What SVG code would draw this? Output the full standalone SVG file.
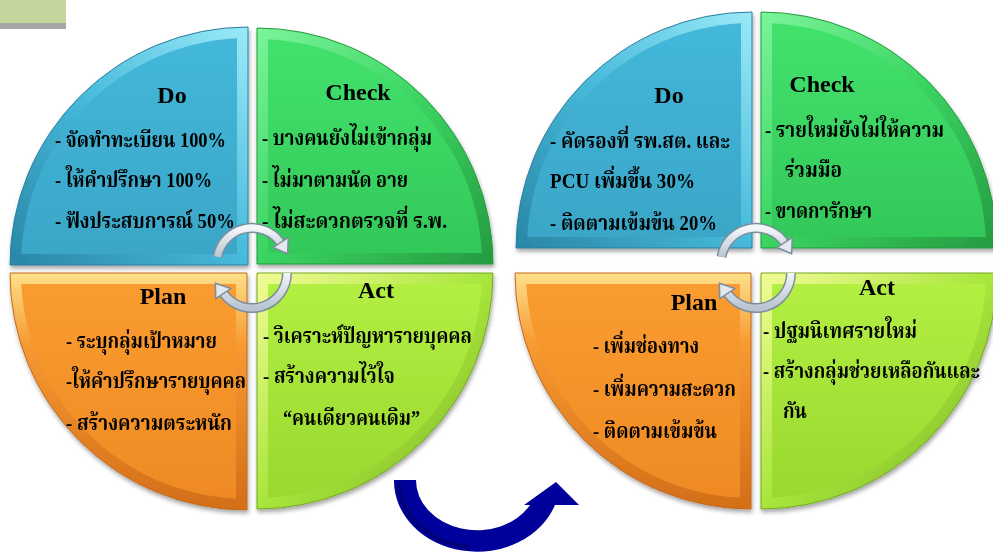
<svg xmlns="http://www.w3.org/2000/svg" width="993" height="553" viewBox="0 0 993 553">
<defs>
<filter id="sh" x="-10%" y="-10%" width="120%" height="120%"><feDropShadow dx="1" dy="3" stdDeviation="2" flood-color="#000" flood-opacity="0.35"/></filter>
<linearGradient id="doRim" x1="1" y1="0" x2="0" y2="1"><stop offset="0" stop-color="#9beaf8"/><stop offset="0.5" stop-color="#46b9da"/><stop offset="1" stop-color="#2a86a6"/></linearGradient>
<linearGradient id="doIn" x1="0" y1="0" x2="0" y2="1"><stop offset="0" stop-color="#44b8da"/><stop offset="1" stop-color="#3aa6c8"/></linearGradient>
<linearGradient id="ckRim" x1="0" y1="0" x2="1" y2="1"><stop offset="0" stop-color="#7cf49a"/><stop offset="0.5" stop-color="#3ad462"/><stop offset="1" stop-color="#259a40"/></linearGradient>
<linearGradient id="ckIn" x1="0" y1="0" x2="0" y2="1"><stop offset="0" stop-color="#42e26c"/><stop offset="1" stop-color="#33c85a"/></linearGradient>
<linearGradient id="plRim" x1="0" y1="0" x2="0" y2="1"><stop offset="0" stop-color="#fde08a"/><stop offset="0.3" stop-color="#f79a32"/><stop offset="1" stop-color="#d36e18"/></linearGradient>
<linearGradient id="plIn" x1="0" y1="0" x2="0" y2="1"><stop offset="0" stop-color="#fa9c30"/><stop offset="1" stop-color="#ef8a24"/></linearGradient>
<linearGradient id="acRim" x1="0" y1="0" x2="1" y2="1"><stop offset="0" stop-color="#f2fb96"/><stop offset="0.5" stop-color="#a8e63c"/><stop offset="1" stop-color="#78ae22"/></linearGradient>
<linearGradient id="acIn" x1="0" y1="0" x2="0" y2="1"><stop offset="0" stop-color="#b2ef42"/><stop offset="1" stop-color="#9bd82f"/></linearGradient>
<linearGradient id="silver" x1="0" y1="0" x2="0" y2="1"><stop offset="0" stop-color="#f4f7fa"/><stop offset="1" stop-color="#b8c5d1"/></linearGradient>
</defs>
<style>
.t{font-family:"Liberation Serif","Noto Serif Thai","Noto Sans Thai","Tlwg Typo",serif;font-weight:bold;fill:#000;}
.h{font-size:24px;text-anchor:middle;}
.b{font-size:21px;}
.do-o{fill:url(#doRim);stroke:#2a7f9e;stroke-width:1;}
.do-i{fill:url(#doIn);}
.ck-o{fill:url(#ckRim);stroke:#249a3e;stroke-width:1;}
.ck-i{fill:url(#ckIn);}
.pl-o{fill:url(#plRim);stroke:#c46a1c;stroke-width:1;}
.pl-i{fill:url(#plIn);}
.ac-o{fill:url(#acRim);stroke:#76a823;stroke-width:1;}
.ac-i{fill:url(#acIn);}
.arc-bg{fill:none;stroke:#7d8d9c;stroke-width:10;}
.arc-fg{fill:none;stroke:url(#silver);stroke-width:7;}
.head{fill:#e2e8ee;stroke:#7d8d9c;stroke-width:1.5;stroke-linejoin:round;}
</style>
<rect x="0" y="0" width="993" height="553" fill="#ffffff"/>
<rect x="0" y="0" width="66" height="23" fill="#c3d69b"/>
<rect x="0" y="23" width="66" height="6" fill="#a6a6a6"/>

<g id="left-do" filter="url(#sh)">
<path class="do-o" d="M248 265 L10 265 A238 238 0 0 1 248 27 Z"/>
<path class="do-i" d="M237 254 L21.3 254 A227 227 0 0 1 237 38.3 Z"/>
<text class="t h" x="172" y="103">Do</text>
<text class="t b" x="55" y="147" textLength="171" lengthAdjust="spacingAndGlyphs">- จัดทำทะเบียน 100%</text>
<text class="t b" x="55" y="187" textLength="157" lengthAdjust="spacingAndGlyphs">- ให้คำปรึกษา 100%</text>
<text class="t b" x="55" y="228" textLength="180" lengthAdjust="spacingAndGlyphs">- ฟังประสบการณ์ 50%</text>
</g>
<g id="left-check" filter="url(#sh)">
<path class="ck-o" d="M257 264 L257 28 A236 236 0 0 1 493 264 Z"/>
<path class="ck-i" d="M268 253 L268 39.3 A225 225 0 0 1 481.7 253 Z"/>
<text class="t h" x="358" y="100">Check</text>
<text class="t b" x="262" y="145" textLength="170" lengthAdjust="spacingAndGlyphs">- บางคนยังไม่เข้ากลุ่ม</text>
<text class="t b" x="262" y="187" textLength="146" lengthAdjust="spacingAndGlyphs">- ไม่มาตามนัด อาย</text>
<text class="t b" x="262" y="228" textLength="185" lengthAdjust="spacingAndGlyphs">- ไม่สะดวกตรวจที่ ร.พ.</text>
</g>
<g id="left-plan" filter="url(#sh)">
<path class="pl-o" d="M247 273 L247 510 A237 237 0 0 1 10 273 Z"/>
<path class="pl-i" d="M236 284 L236 498.7 A226 226 0 0 1 21.3 284 Z"/>
<text class="t h" x="163" y="304">Plan</text>
<text class="t b" x="66" y="348" textLength="151" lengthAdjust="spacingAndGlyphs">- ระบุกลุ่มเป้าหมาย</text>
<text class="t b" x="66" y="388" textLength="180" lengthAdjust="spacingAndGlyphs">-ให้คำปรึกษารายบุคคล</text>
<text class="t b" x="66" y="430" textLength="166" lengthAdjust="spacingAndGlyphs">- สร้างความตระหนัก</text>
</g>
<g id="left-act" filter="url(#sh)">
<path class="ac-o" d="M257 273 L493 273 A236 236 0 0 1 257 509 Z"/>
<path class="ac-i" d="M268 284 L481.7 284 A225 225 0 0 1 268 497.7 Z"/>
<text class="t h" x="376" y="298">Act</text>
<text class="t b" x="263" y="343" textLength="209" lengthAdjust="spacingAndGlyphs">- วิเคราะห์ปัญหารายบุคคล</text>
<text class="t b" x="263" y="383" textLength="132" lengthAdjust="spacingAndGlyphs">- สร้างความไว้ใจ</text>
<text class="t b" x="283" y="425" textLength="137" lengthAdjust="spacingAndGlyphs">“คนเดียวคนเดิม”</text>
</g>

<g id="right-do" filter="url(#sh)">
<path class="do-o" d="M752 248 L516 248 A236 236 0 0 1 752 12 Z"/>
<path class="do-i" d="M741 237 L527.3 237 A225 225 0 0 1 741 23.3 Z"/>
<text class="t h" x="669" y="103">Do</text>
<text class="t b" x="550" y="148" textLength="180" lengthAdjust="spacingAndGlyphs">- คัดรองที่ รพ.สต. และ</text>
<text class="t b" x="550" y="188" textLength="145" lengthAdjust="spacingAndGlyphs">PCU เพิ่มขึ้น 30%</text>
<text class="t b" x="550" y="230" textLength="167" lengthAdjust="spacingAndGlyphs">- ติดตามเข้มข้น 20%</text>
</g>
<g id="right-check" filter="url(#sh)">
<path class="ck-o" d="M761 248 L761 12 A236 236 0 0 1 997 248 Z"/>
<path class="ck-i" d="M772 237 L772 23.3 A225 225 0 0 1 985.7 237 Z"/>
<text class="t h" x="822" y="92">Check</text>
<text class="t b" x="765" y="137" textLength="179" lengthAdjust="spacingAndGlyphs">- รายใหม่ยังไม่ให้ความ</text>
<text class="t b" x="785" y="177" textLength="57" lengthAdjust="spacingAndGlyphs">ร่วมมือ</text>
<text class="t b" x="765" y="218" textLength="107" lengthAdjust="spacingAndGlyphs">- ขาดการักษา</text>
</g>
<g id="right-plan" filter="url(#sh)">
<path class="pl-o" d="M751 273 L751 509 A236 236 0 0 1 515 273 Z"/>
<path class="pl-i" d="M740 284 L740 497.7 A225 225 0 0 1 526.3 284 Z"/>
<text class="t h" x="694" y="310">Plan</text>
<text class="t b" x="593" y="353" textLength="106" lengthAdjust="spacingAndGlyphs">- เพิ่มช่องทาง</text>
<text class="t b" x="593" y="396" textLength="143" lengthAdjust="spacingAndGlyphs">- เพิ่มความสะดวก</text>
<text class="t b" x="593" y="438" textLength="124" lengthAdjust="spacingAndGlyphs">- ติดตามเข้มข้น</text>
</g>
<g id="right-act" filter="url(#sh)">
<path class="ac-o" d="M761 273 L997 273 A236 236 0 0 1 761 509 Z"/>
<path class="ac-i" d="M772 284 L985.7 284 A225 225 0 0 1 772 497.7 Z"/>
<text class="t h" x="877" y="295">Act</text>
<text class="t b" x="763" y="338" textLength="154" lengthAdjust="spacingAndGlyphs">- ปฐมนิเทศรายใหม่</text>
<text class="t b" x="763" y="378" textLength="217" lengthAdjust="spacingAndGlyphs">- สร้างกลุ่มช่วยเหลือกันและ</text>
<text class="t b" x="783" y="418" textLength="24" lengthAdjust="spacingAndGlyphs">กัน</text>
</g>

<g id="connectors">
<g id="left-cycle-arrows">
<path class="arc-bg" d="M217.5 256.9 A35 35 0 0 1 280.7 242.9"/>
<path class="arc-fg" d="M217.5 256.9 A35 35 0 0 1 280.7 242.9"/>
<polygon class="head" points="288.3,237.3 287.6,253.7 273.1,247.5"/>
<path class="arc-bg" d="M287 273 A35 35 0 0 1 223.3 293.1"/>
<path class="arc-fg" d="M287 273 A35 35 0 0 1 223.3 293.1"/>
<polygon class="head" points="215.7,298.7 215.4,283.3 230.9,288.5"/>
</g>
<g id="right-cycle-arrows">
<path class="arc-bg" d="M721.5 256.9 A35 35 0 0 1 784.7 242.9"/>
<path class="arc-fg" d="M721.5 256.9 A35 35 0 0 1 784.7 242.9"/>
<polygon class="head" points="792.3,237.3 791.6,253.7 777.1,247.5"/>
<path class="arc-bg" d="M791 273 A35 35 0 0 1 727.3 293.1"/>
<path class="arc-fg" d="M791 273 A35 35 0 0 1 727.3 293.1"/>
<polygon class="head" points="719.7,298.7 719.4,283.3 734.9,288.5"/>
</g>
<g id="big-arrow">
<path d="M394 480 L416 480 A61 50 0 0 0 530 505 L524 505 L556 482 L579 505 L555 505 A83 71 0 0 1 394 480 Z" fill="#00009a"/>
<path d="M399 482 A78 66 0 0 0 470 547" fill="none" stroke="#00007a" stroke-width="4"/>
</g>
</g>
</svg>
